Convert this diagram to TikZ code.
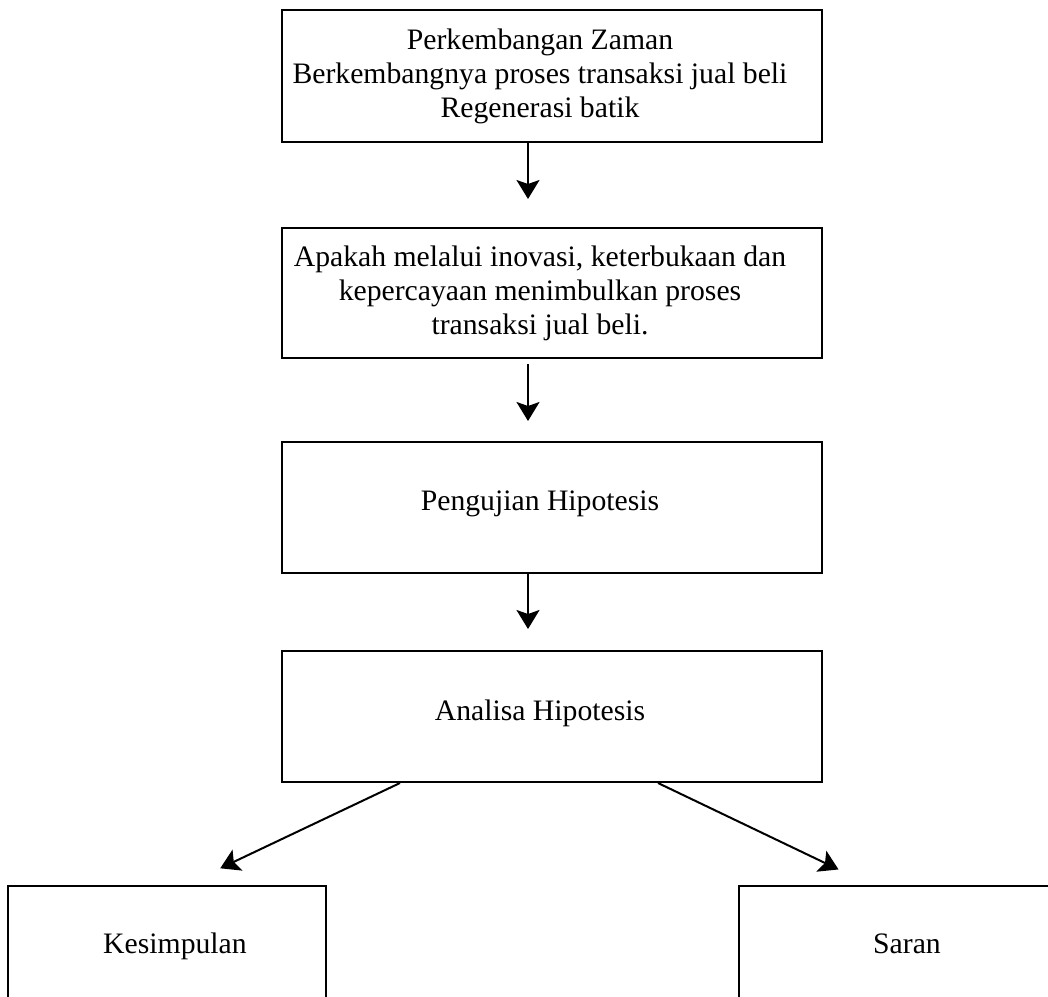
\documentclass[tikz,border=0pt]{standalone}
\usepackage{fontspec}
\setmainfont{Liberation Serif}
\usetikzlibrary{arrows.meta,positioning}

\begin{document}
\begin{tikzpicture}[x=1pt, y=-1pt,
  box/.style={draw, line width=2pt, minimum width=540pt, inner sep=0pt},
  boxtext/.style={align=center, font=\fontsize{29.7}{34}\selectfont, inner sep=0pt},
  flow/.style={line width=2pt, -{Stealth[length=19pt, width=23pt, inset=4pt]}}]
  \useasboundingbox (0,0) rectangle (1048,996);
  \fill[white] (0,0) rectangle (1048,996);
  \clip (0,0) rectangle (1048,996);

  % Main column
  \node[box, minimum height=132pt] (zaman) at (552,76) {};
  \node[box, minimum height=130pt] (apakah) at (552,293) {};
  \node[box, minimum height=131pt] (pengujian) at (552,507.5) {};
  \node[box, minimum height=131pt] (analisa) at (552,716.5) {};

  % Bottom row (cut off by the page)
  \node[box, minimum width=318pt, minimum height=131pt] (kesimpulan) at (167,951.5) {};
  \node[box, minimum width=318pt, minimum height=131pt] (saran) at (898,951.5) {};

  % Texts
  \node[boxtext] (zaman-t) at ([xshift=-12pt]zaman.center)
    {Perkembangan Zaman\\Berkembangnya proses transaksi jual beli\\Regenerasi batik};
  \node[boxtext] (apakah-t) at ([xshift=-12pt]apakah.center)
    {Apakah melalui inovasi, keterbukaan dan\\kepercayaan menimbulkan proses\\transaksi jual beli.};
  \node[boxtext, anchor=base] (pengujian-t) at ([xshift=-12pt, yshift=-3pt]pengujian.center) {Pengujian Hipotesis};
  \node[boxtext, anchor=base] (analisa-t) at ([xshift=-12pt, yshift=-3.5pt]analisa.center) {Analisa Hipotesis};
  \node[boxtext, anchor=base] (kesimpulan-t) at ([xshift=8pt, yshift=-1.5pt]kesimpulan.center) {Kesimpulan};
  \node[boxtext, anchor=base] (saran-t) at ([xshift=9pt, yshift=-1.5pt]saran.center) {Saran};

  % Arrows
  \draw[flow, shorten >=28pt] ([xshift=-24pt]zaman.south) -- ([xshift=-24pt]apakah.north);
  \draw[flow, shorten <=5pt, shorten >=20pt] ([xshift=-24pt]apakah.south) -- ([xshift=-24pt]pengujian.north);
  \draw[flow, shorten >=21pt] ([xshift=-24pt]pengujian.south) -- ([xshift=-24pt]analisa.north);
  \draw[flow, shorten >=39pt] ([xshift=-152pt]analisa.south) -- ([xshift=18pt]kesimpulan.north);
  \draw[flow, shorten >=36pt] ([xshift=106pt]analisa.south) -- ([xshift=-27pt]saran.north);
\end{tikzpicture}
\end{document}
